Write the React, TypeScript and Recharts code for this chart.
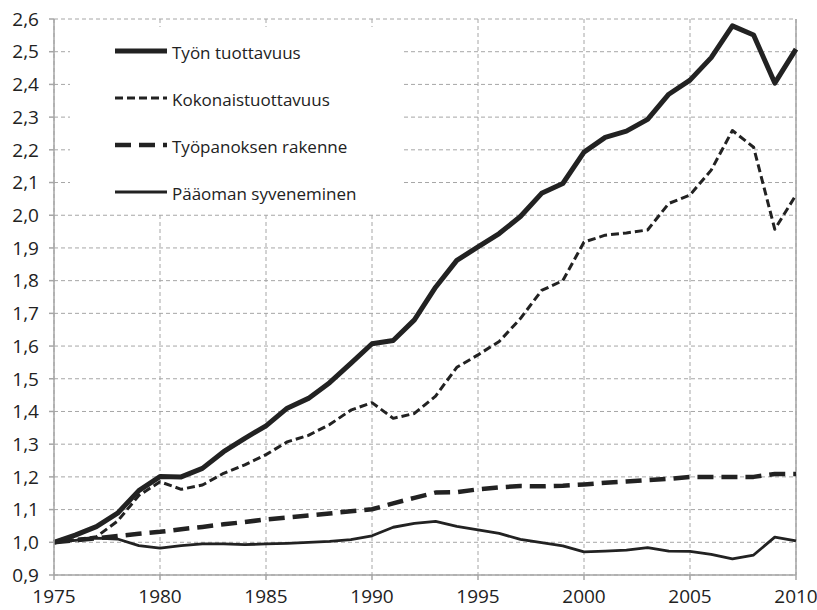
import React from "react";
import {
  CartesianGrid,
  Legend,
  Line,
  LineChart,
  ReferenceLine,
  XAxis,
  YAxis,
} from "recharts";

const YEARS = [
  1975, 1976, 1977, 1978, 1979, 1980, 1981, 1982, 1983, 1984, 1985, 1986,
  1987, 1988, 1989, 1990, 1991, 1992, 1993, 1994, 1995, 1996, 1997, 1998,
  1999, 2000, 2001, 2002, 2003, 2004, 2005, 2006, 2007, 2008, 2009, 2010,
];

const TYON_TUOTTAVUUS = [
  1.0, 1.022, 1.048, 1.089, 1.158, 1.201, 1.2, 1.226, 1.277, 1.318, 1.356,
  1.41, 1.44, 1.488, 1.547, 1.607, 1.617, 1.68, 1.78, 1.862, 1.903, 1.944,
  1.996, 2.067, 2.097, 2.193, 2.238, 2.257, 2.293, 2.37, 2.413, 2.482,
  2.579, 2.551, 2.404, 2.508,
];

const KOKONAISTUOTTAVUUS = [
  1.0, 1.008, 1.017, 1.065, 1.143, 1.185, 1.162, 1.175, 1.211, 1.237, 1.268,
  1.307, 1.327, 1.36, 1.404, 1.427, 1.379, 1.394, 1.447, 1.535, 1.573,
  1.614, 1.684, 1.77, 1.8, 1.918, 1.939, 1.946, 1.955, 2.036, 2.062, 2.138,
  2.259, 2.208, 1.957, 2.062,
];

const TYOPANOKSEN_RAKENNE = [
  1.0, 1.006, 1.012, 1.019, 1.026, 1.032, 1.04, 1.047, 1.055, 1.062, 1.07,
  1.076, 1.082, 1.088, 1.095, 1.101, 1.119, 1.136, 1.152, 1.153, 1.162,
  1.168, 1.172, 1.171, 1.173, 1.177, 1.182, 1.186, 1.19, 1.194, 1.2, 1.2,
  1.2, 1.2, 1.209, 1.209,
];

const PAAOMAN_SYVENEMINEN = [
  1.0, 1.006, 1.013, 1.01, 0.99, 0.982, 0.99, 0.995, 0.995, 0.993, 0.995,
  0.997, 1.0, 1.003, 1.008, 1.02, 1.046, 1.058, 1.064, 1.049, 1.038, 1.027,
  1.009, 0.999, 0.989, 0.971, 0.973, 0.976, 0.984, 0.973, 0.972, 0.963,
  0.949, 0.961, 1.016, 1.004,
];

const X_TICKS = [1975, 1980, 1985, 1990, 1995, 2000, 2005, 2010];
const Y_TICKS = [
  0.9, 1.0, 1.1, 1.2, 1.3, 1.4, 1.5, 1.6, 1.7, 1.8, 1.9, 2.0, 2.1, 2.2, 2.3,
  2.4, 2.5, 2.6,
];

const INK = "#222222";
const GRID = "#a6a6a6";
const FONT = '"Open Sans", "Liberation Sans", sans-serif';

// stroke look per series, shared by the lines and the legend swatches
const STYLES: Record<string, { width: number; dash?: string }> = {
  "Työn tuottavuus": { width: 5 },
  Kokonaistuottavuus: { width: 3, dash: "8 4" },
  "Työpanoksen rakenne": { width: 4.5, dash: "16 8" },
  "Pääoman syveneminen": { width: 2.8 },
};
const NAMES = Object.keys(STYLES);

const rows = YEARS.map((year, i) => ({
  year,
  "Työn tuottavuus": TYON_TUOTTAVUUS[i],
  Kokonaistuottavuus: KOKONAISTUOTTAVUUS[i],
  "Työpanoksen rakenne": TYOPANOKSEN_RAKENNE[i],
  "Pääoman syveneminen": PAAOMAN_SYVENEMINEN[i],
}));

const fmt = (v: number) => v.toFixed(1).replace(".", ",");

// Recharts sorts the legend payload by name, so keep the series order here.
function LegendBox({ payload }: { payload?: { value?: string }[] }) {
  if (!payload) return null;
  const shown = NAMES.filter((n) => payload.some((p) => p.value === n));
  return (
    <div style={{ position: "relative", width: "100%", height: "100%" }}>
      {shown.map((name, i) => {
        const s = STYLES[name];
        const cy = 27 + 47 * i;
        return (
          <div key={name}>
            <svg
              width={52}
              height={12}
              style={{ position: "absolute", left: 45, top: cy - 9 }}
            >
              <line
                x1={0}
                y1={6}
                x2={52}
                y2={6}
                stroke={INK}
                strokeWidth={s.width}
                strokeDasharray={s.dash}
              />
            </svg>
            <span
              style={{
                position: "absolute",
                left: 102,
                top: cy - 12,
                fontSize: 17,
                lineHeight: "22px",
                color: INK,
                fontFamily: FONT,
                whiteSpace: "nowrap",
              }}
            >
              {name}
            </span>
          </div>
        );
      })}
    </div>
  );
}

export default function App() {
  return (
    <div
      style={{
        position: "absolute",
        left: 0,
        top: 0,
        width: 817,
        height: 610,
        background: "#fff",
        fontFamily: FONT,
      }}
    >
      <LineChart
        width={817}
        height={610}
        data={rows}
        margin={{ top: 19, right: 21, bottom: 0, left: 0 }}
      >
        <CartesianGrid stroke={GRID} strokeDasharray="4 3" strokeWidth={1} />
        <XAxis
          dataKey="year"
          type="number"
          domain={[1975, 2010]}
          ticks={X_TICKS}
          interval={0}
          height={35}
          tickSize={5}
          tickMargin={10}
          stroke={GRID}
          strokeWidth={1.5}
          tick={{ fontSize: 19, fill: INK, fontFamily: FONT }}
        />
        <YAxis
          type="number"
          domain={[0.9, 2.6]}
          ticks={Y_TICKS}
          interval={0}
          allowDataOverflow
          width={54}
          tickSize={5}
          tickMargin={10}
          tickFormatter={fmt}
          stroke={GRID}
          strokeWidth={1.5}
          tick={{ fontSize: 19, fill: INK, fontFamily: FONT }}
        />
        <ReferenceLine x={2010} stroke={GRID} strokeWidth={1.5} />
        <Legend
          layout="horizontal"
          verticalAlign="middle"
          align="center"
          content={<LegendBox />}
          wrapperStyle={{
            left: 70,
            top: 27,
            width: 333,
            height: 185,
            background: "#fff",
          }}
        />
        {NAMES.map((name) => (
          <Line
            key={name}
            type="linear"
            dataKey={name}
            stroke={INK}
            strokeWidth={STYLES[name].width}
            strokeDasharray={STYLES[name].dash}
            strokeLinejoin="round"
            dot={false}
            activeDot={false}
            isAnimationActive={false}
          />
        ))}
      </LineChart>
    </div>
  );
}
